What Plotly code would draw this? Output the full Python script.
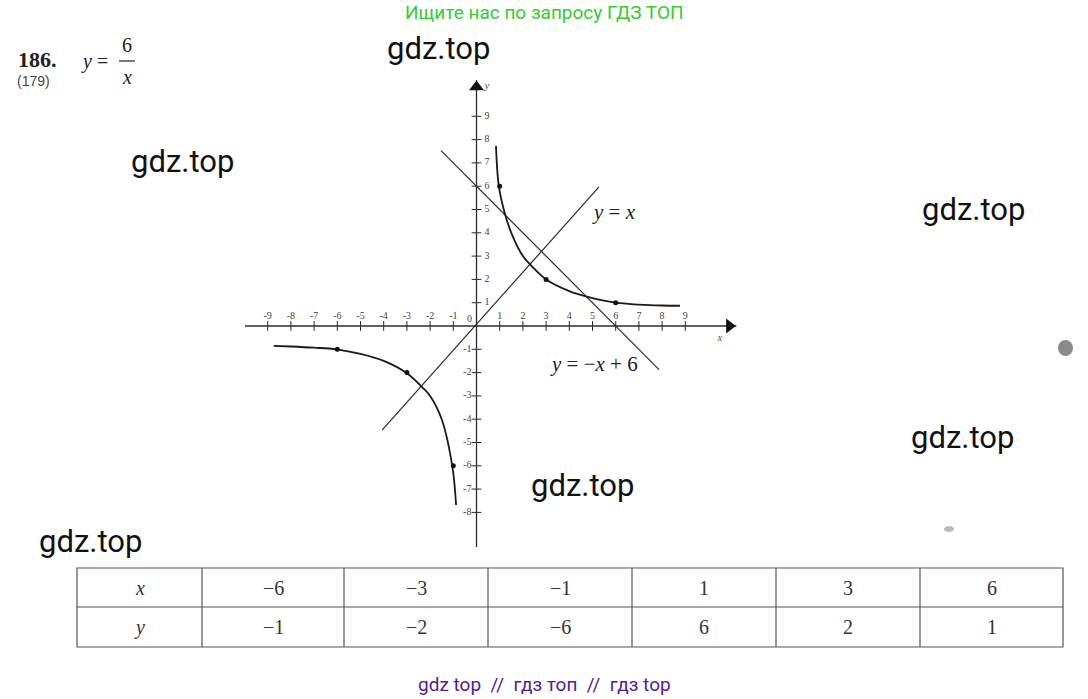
import plotly.graph_objects as go

W, H = 1088, 699
# pixel mapping of the drawing (origin and scale)
X0, KX = 476.5, 23.2
Y0, KY = 326.0, 23.3

# ---- data ----
table_x = [-6, -3, -1, 1, 3, 6]
table_y = [-1, -2, -6, 6, 2, 1]

branch_r_x = [0.84, 0.96, 1.2, 1.5, 2.0, 2.5, 3.0, 4.0, 4.8, 6.0, 7.0, 8.0, 8.77]
branch_r_y = [7.73, 6.02, 4.9, 4.0, 3.0, 2.45, 2.0, 1.5, 1.25, 1.0, 0.92, 0.88, 0.87]
branch_l_x = [-8.74, -8.0, -7.0, -6.03, -5.0, -4.0, -3.0, -2.34, -2.0, -1.5, -1.04, -0.88]
branch_l_y = [-0.85, -0.88, -0.93, -1.0, -1.2, -1.5, -2.03, -2.63, -3.0, -4.0, -6.04, -7.68]

line1_x = [-4.06, 5.28]          # y = x
line1_y = [-4.46, 5.97]
line2_x = [-1.53, 7.87]          # y = -x + 6
line2_y = [7.53, -1.87]

xticks = [-9, -8, -7, -6, -5, -4, -3, -2, -1, 1, 2, 3, 4, 5, 6, 7, 8, 9]
yticks = [-8, -7, -6, -5, -4, -3, -2, -1, 1, 2, 3, 4, 5, 6, 7, 8, 9]

x_axis_ext = [-9.98, 11.2]
y_axis_ext = [-9.48, 10.56]

header = "Ищите нас по запросу ГДЗ ТОП"
footer = "gdz top  //  гдз топ  //  гдз top"
watermark = "gdz.top"
wm_pos = [(438, 48), (182, 161), (973, 209), (962, 437), (582, 485), (90, 541)]

INK = "#2a2a2a"
SERIF = "Liberation Serif"


def fx(p):
    return p / W


def fy(p):
    return 1 - p / H


def mt(v):
    return str(v).replace("-", "\u2212")


fig = go.Figure()

# axes
fig.add_trace(go.Scatter(x=x_axis_ext, y=[0, 0], mode="lines",
                         line=dict(color=INK, width=1.3), hoverinfo="skip"))
fig.add_trace(go.Scatter(x=[0, 0], y=y_axis_ext, mode="lines",
                         line=dict(color=INK, width=1.3), hoverinfo="skip"))
# arrowheads
fig.add_trace(go.Scatter(x=[x_axis_ext[1] - 0.3], y=[0], mode="markers",
                         marker=dict(symbol="triangle-right", size=13, color="#111"),
                         hoverinfo="skip"))
fig.add_trace(go.Scatter(x=[0], y=[y_axis_ext[1] - 0.3], mode="markers",
                         marker=dict(symbol="triangle-up", size=13, color="#111"),
                         hoverinfo="skip"))
# ticks
fig.add_trace(go.Scatter(x=xticks, y=[0] * len(xticks), mode="markers",
                         marker=dict(symbol="line-ns-open", size=7, color=INK,
                                     line=dict(color=INK, width=1)),
                         hoverinfo="skip"))
fig.add_trace(go.Scatter(x=[0] * len(yticks), y=yticks, mode="markers",
                         marker=dict(symbol="line-ew-open", size=7, color=INK,
                                     line=dict(color=INK, width=1)),
                         hoverinfo="skip"))
# tick labels
tick_font = dict(family=SERIF, size=10, color="#444")
fig.add_trace(go.Scatter(x=xticks, y=[0.42] * len(xticks), mode="text",
                         text=[str(v) for v in xticks], textfont=tick_font,
                         hoverinfo="skip"))
pos_y = [v for v in yticks if v > 0]
neg_y = [v for v in yticks if v < 0]
fig.add_trace(go.Scatter(x=[0.45] * len(pos_y), y=pos_y, mode="text",
                         text=[str(v) for v in pos_y], textfont=tick_font,
                         hoverinfo="skip"))
fig.add_trace(go.Scatter(x=[-0.4] * len(neg_y), y=neg_y, mode="text",
                         text=[str(v) for v in neg_y], textfont=tick_font,
                         hoverinfo="skip"))
fig.add_trace(go.Scatter(x=[-0.3], y=[0.28], mode="text", text=["0"],
                         textfont=tick_font, hoverinfo="skip"))
fig.add_trace(go.Scatter(x=[10.5, 0.45], y=[-0.55, 10.3], mode="text",
                         text=["<i>x</i>", "<i>y</i>"],
                         textfont=dict(family=SERIF, size=10, color="#444"),
                         hoverinfo="skip"))

# straight lines
fig.add_trace(go.Scatter(x=line1_x, y=line1_y, mode="lines",
                         line=dict(color=INK, width=1.2), hoverinfo="skip"))
fig.add_trace(go.Scatter(x=line2_x, y=line2_y, mode="lines",
                         line=dict(color=INK, width=1.2), hoverinfo="skip"))
# hyperbola
for bx, by in ((branch_r_x, branch_r_y), (branch_l_x, branch_l_y)):
    fig.add_trace(go.Scatter(x=bx, y=by, mode="lines", line_shape="spline",
                             line=dict(color="#1a1a1a", width=1.8),
                             hoverinfo="skip"))
# table points
fig.add_trace(go.Scatter(x=table_x, y=table_y, mode="markers",
                         marker=dict(size=5, color="#111"), hoverinfo="skip"))

fig.update_xaxes(visible=False, range=[-X0 / KX, (W - X0) / KX])
fig.update_yaxes(visible=False, range=[-(H - Y0) / KY, Y0 / KY])

ann = []
shapes = []


def text(px, py, s, size, color="#222", family=SERIF, xanchor="center"):
    ann.append(dict(x=fx(px), y=fy(py), xref="paper", yref="paper", text=s,
                    showarrow=False, xanchor=xanchor, yanchor="middle",
                    font=dict(family=family, size=size, color=color)))


# header / footer
text(544, 12, header, 19, "#33cc33", "Roboto")
text(544, 684, footer, 19, "#55208f", "Roboto")
for (wx, wy) in wm_pos:
    text(wx, wy, watermark, 31, "#111111", "Roboto")

# title
text(16, 60, "<b>186.</b>", 22, "#222", SERIF, "left")
text(15, 81, "(179)", 14, "#444", "Liberation Sans", "left")
text(79, 61, "<i>y</i> =", 20, "#222", SERIF, "left")
text(127, 45, "6", 20, "#222", SERIF)
text(127, 77, "<i>x</i>", 20, "#222", SERIF)
shapes.append(dict(type="line", xref="paper", yref="paper",
                   x0=fx(119), x1=fx(135), y0=fy(61), y1=fy(61),
                   line=dict(color="#222", width=1.2)))

# line labels
text(614, 212, "<i>y</i> = <i>x</i>", 21, "#222")
text(594, 364, "<i>y</i> = \u2212<i>x</i> + 6", 21, "#222")

# table
TL, TR, TT, TM, TB = 77, 1063, 568, 607, 647
col_edges = [TL, 202, 344, 488, 632, 776, 920, TR]
lc = dict(color="#555", width=1.2)
shapes.append(dict(type="rect", xref="paper", yref="paper",
                   x0=fx(TL), x1=fx(TR), y0=fy(TT), y1=fy(TB), line=lc))
shapes.append(dict(type="line", xref="paper", yref="paper",
                   x0=fx(TL), x1=fx(TR), y0=fy(TM), y1=fy(TM), line=lc))
for e in col_edges[1:-1]:
    shapes.append(dict(type="line", xref="paper", yref="paper",
                       x0=fx(e), x1=fx(e), y0=fy(TT), y1=fy(TB), line=lc))
centers = [(col_edges[i] + col_edges[i + 1]) / 2 for i in range(len(col_edges) - 1)]
text(centers[0], (TT + TM) / 2, "<i>x</i>", 20, "#333")
text(centers[0], (TM + TB) / 2, "<i>y</i>", 20, "#333")
for i, (vx, vy) in enumerate(zip(table_x, table_y)):
    text(centers[i + 1], (TT + TM) / 2, mt(vx), 20, "#333")
    text(centers[i + 1], (TM + TB) / 2, mt(vy), 20, "#333")

# scan specks
shapes.append(dict(type="circle", xref="paper", yref="paper",
                   x0=fx(1058), x1=fx(1073), y0=fy(340), y1=fy(356),
                   fillcolor="#8a8a8a", line=dict(width=0)))
shapes.append(dict(type="circle", xref="paper", yref="paper",
                   x0=fx(944), x1=fx(954), y0=fy(526), y1=fy(532),
                   fillcolor="#bbbbbb", line=dict(width=0)))

fig.update_layout(width=W, height=H, margin=dict(l=0, r=0, t=0, b=0),
                  paper_bgcolor="white", plot_bgcolor="white",
                  showlegend=False, annotations=ann, shapes=shapes)

fig.write_html("out.html", config={"displayModeBar": False},
               post_script="document.body.style.margin='0';document.body.style.overflow='hidden';")
